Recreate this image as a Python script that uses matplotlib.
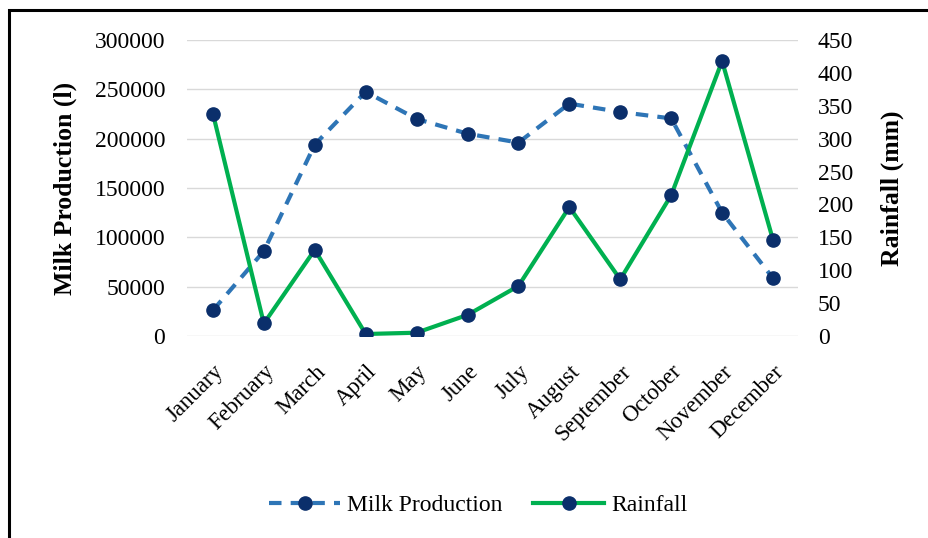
import matplotlib.pyplot as plt
from matplotlib.patches import Rectangle

plt.rcParams['font.family'] = ['Liberation Serif', 'DejaVu Serif']

months = ["January", "February", "March", "April", "May", "June", "July",
          "August", "September", "October", "November", "December"]
milk = [26000, 86000, 194000, 247500, 220000, 205000, 196000,
        235500, 227000, 220500, 125000, 58500]
rainfall = [338, 19, 131, 3, 5, 32, 76, 196, 86, 214, 418, 146]

milk_ticks = [0, 50000, 100000, 150000, 200000, 250000, 300000]
rain_ticks = [0, 50, 100, 150, 200, 250, 300, 350, 400, 450]

blue = '#2E75B6'
green = '#00B050'
navy = '#0B2F6B'

fig = plt.figure(figsize=(9.29, 5.38), dpi=100)
ax = fig.add_axes([0.2018, 0.3755, 0.6577, 0.5502])
ax2 = ax.twinx()

x = range(len(months))
l1, = ax.plot(x, milk, color=blue, lw=3, ls=(0, (3, 2.2)), marker='o',
              markersize=9.5, markerfacecolor=navy, markeredgecolor=navy,
              label='Milk Production', zorder=3)
l2, = ax2.plot(x, rainfall, color=green, lw=3, marker='o',
               markersize=9.5, markerfacecolor=navy, markeredgecolor=navy,
               label='Rainfall', zorder=3)

ax.set_xlim(-0.5, len(months) - 0.5)
ax.set_ylim(0, 300000)
ax2.set_ylim(0, 450)
ax.set_yticks(milk_ticks)
ax2.set_yticks(rain_ticks)
ax.set_xticks(list(x))
ax.set_xticklabels(months, rotation=45, ha='right', rotation_mode='anchor')
ax.yaxis.grid(True, color='#D9D9D9', lw=1)
ax.set_axisbelow(True)
for a in (ax, ax2):
    for s in a.spines.values():
        s.set_visible(False)
    a.tick_params(length=0, labelsize=17)
ax.tick_params(axis='y', pad=16)
ax.tick_params(axis='x', pad=18, labelsize=16.5)
ax2.tick_params(axis='y', pad=14)

ax.set_ylabel('Milk Production (l)', fontsize=18.5, fontweight='bold', labelpad=13)
ax2.set_ylabel('Rainfall (mm)', fontsize=18.5, fontweight='bold', labelpad=20)

fig.legend([l1, l2], ['Milk Production', 'Rainfall'], loc='center',
           bbox_to_anchor=(0.515, 0.06), ncol=2, frameon=False, fontsize=17,
           handlelength=3.0, columnspacing=1.3, handletextpad=0.3)

# outer frame
fig.patches.append(Rectangle((9 / 929, -0.05), 1.0, 1 - 10 / 538 + 0.05,
                             transform=fig.transFigure, fill=False,
                             edgecolor='black', lw=2.2))

fig.savefig('out.png', dpi=100)
